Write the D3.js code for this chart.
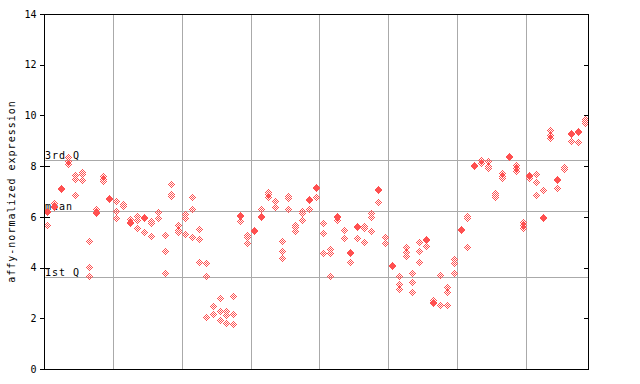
<!DOCTYPE html>
<html>
<head>
<meta charset="utf-8">
<script src="https://cdn.jsdelivr.net/npm/d3@7"></script>
<style>
  body { margin: 0; background: #fff; }
  text { font-family: "DejaVu Sans Mono", monospace; }
</style>
</head>
<body>
<div id="chart"></div>
<script>
// replicate values for each of the 79 samples, left to right
var expr = [
  [6.22, 6.18, 5.67], [6.55, 6.42, 6.38], [7.15, 7.10], [8.37, 8.22, 8.08], [7.65, 7.48, 6.86],
  [7.76, 7.70, 7.45], [5.05, 4.03, 3.67], [6.30, 6.20, 6.15], [7.60, 7.48, 7.43], [6.76, 6.70],
  [6.63, 6.23, 5.94], [6.51, 6.43], [5.90, 5.78, 5.75], [6.03, 5.88, 5.55], [6.00, 5.95, 5.42],
  [5.85, 5.77, 5.25], [6.20, 5.94], [5.27, 4.65, 3.80], [7.30, 6.90, 6.82], [5.68, 5.50, 5.42],
  [6.10, 5.94, 5.32], [6.77, 6.30, 5.19], [5.51, 5.11, 4.21], [4.17, 3.66, 2.05], [2.48, 2.16],
  [2.80, 2.27, 1.92], [2.27, 2.12, 1.80], [2.87, 2.16, 1.76], [6.07, 6.02, 5.85], [5.27, 5.20, 4.96],
  [5.50, 5.45], [6.30, 6.02, 5.98], [6.97, 6.90, 6.80], [6.61, 6.38], [5.05, 4.65, 4.37],
  [6.84, 6.73, 6.30], [5.68, 5.60, 5.44], [6.23, 6.14, 5.86], [6.70, 6.66, 6.30], [7.17, 7.12, 6.77],
  [5.74, 5.35, 4.56], [4.73, 4.58, 3.66], [6.03, 5.98, 5.88], [5.48, 5.15], [4.62, 4.57, 4.23],
  [5.65, 5.61, 5.15], [5.65, 5.58, 5.00], [6.14, 5.98, 5.44], [7.08, 7.04, 6.57], [5.19, 4.98],
  [4.12, 4.08], [3.67, 3.34, 3.14], [4.80, 4.63, 4.46], [3.77, 3.44, 3.02], [5.00, 4.64, 4.21],
  [5.13, 5.09, 4.84], [2.71, 2.66, 2.59], [3.71, 2.52], [3.22, 3.05, 2.52], [4.33, 4.19, 3.77],
  [5.53, 5.49], [6.02, 5.95, 4.80], [8.06, 8.02], [8.24, 8.14], [8.21, 8.01, 7.93],
  [6.96, 6.86, 6.77], [7.71, 7.60, 7.55], [8.39, 8.35], [8.04, 7.91, 7.82], [5.81, 5.68, 5.55],
  [7.66, 7.60, 7.52], [7.68, 7.36, 6.85], [7.06, 6.00, 5.96], [9.43, 9.22, 9.12], [7.48, 7.44, 7.12],
  [7.95, 7.88], [9.29, 9.25, 9.00], [9.37, 9.33, 8.94], [9.84, 9.78, 9.71]
];

var yTicks     = [0, 2, 4, 6, 8, 10, 12, 14];
var innerTicks = [4, 6, 8];
var groupEdges = [10, 20, 30, 40, 50, 60, 70];
var refValues  = [8.23, 6.23, 3.63];
var refLabels  = ["3rd Q", "mean", "1st Q"];

var width = 640, height = 384,
    margin = {top: 14, right: 52, bottom: 15, left: 44};

var x = d3.scaleLinear().domain([0, expr.length]).range([margin.left, width - margin.right]);
var y = d3.scaleLinear().domain([0, 14]).range([height - margin.bottom, margin.top]);

var svg = d3.select("#chart").append("svg")
    .attr("width", width)
    .attr("height", height)
    .attr("shape-rendering", "crispEdges");

// vertical separators between sample groups
svg.append("g").selectAll("line")
    .data(groupEdges)
  .enter().append("line")
    .attr("x1", function(d) { return Math.round(x(d)) + 0.5; })
    .attr("x2", function(d) { return Math.round(x(d)) + 0.5; })
    .attr("y1", y(14))
    .attr("y2", y(0))
    .attr("stroke", "#aaa");

// quartile / mean lines
svg.append("g").selectAll("line")
    .data(refValues)
  .enter().append("line")
    .attr("x1", x(0))
    .attr("x2", x(expr.length))
    .attr("y1", function(d) { return Math.round(y(d)) + 0.5; })
    .attr("y2", function(d) { return Math.round(y(d)) + 0.5; })
    .attr("stroke", "#aaa");

svg.append("g").selectAll("text")
    .data(refValues)
  .enter().append("text")
    .attr("x", x(0) + 1)
    .attr("y", function(d) { return Math.round(y(d)) - 1; })
    .attr("font-size", "10px")
    .attr("letter-spacing", "1px")
    .attr("fill", "#000")
    .text(function(d, i) { return refLabels[i]; });

// checkered 7px diamond, built pixel by pixel
var diamond = "";
for (var dy = -3; dy <= 3; dy++) {
  for (var dx = -3; dx <= 3; dx++) {
    if (Math.abs(dx) + Math.abs(dy) <= 3 && Math.abs(dx + dy) % 2 == 1)
      diamond += "M" + dx + "," + dy + "h1v1h-1z";
  }
}

var pts = [];
expr.forEach(function(vals, i) {
  vals.forEach(function(v) { pts.push({i: i, v: v}); });
});

svg.append("g").selectAll("path")
    .data(pts)
  .enter().append("path")
    .attr("transform", function(d) {
      return "translate(" + Math.round(x(d.i + 0.5)) + "," + Math.round(y(d.v)) + ")";
    })
    .attr("d", diamond)
    .attr("fill", "#ff5050");

// frame
svg.append("rect")
    .attr("x", x(0) + 0.5)
    .attr("y", y(14) + 0.5)
    .attr("width", x(expr.length) - x(0))
    .attr("height", y(0) - y(14))
    .attr("fill", "none")
    .attr("stroke", "#000");

var yAxis = svg.append("g")
    .attr("transform", "translate(" + (x(0) + 0.5) + ",0)")
    .call(d3.axisLeft(y).tickValues(yTicks).tickSize(5).tickPadding(3));
yAxis.select(".domain").remove();
yAxis.selectAll("text")
    .attr("font-family", "DejaVu Sans Mono, monospace")
    .attr("font-size", "10px")
    .attr("fill", "#000");

// short inward ticks
svg.append("g")
    .attr("transform", "translate(" + (x(expr.length) + 0.5) + ",0)")
    .call(d3.axisLeft(y).tickValues(yTicks).tickSize(5).tickFormat(""))
    .select(".domain").remove();

svg.append("g")
    .attr("transform", "translate(" + (x(0) + 0.5) + ",0)")
    .call(d3.axisRight(y).tickValues(innerTicks).tickSize(5).tickFormat(""))
    .select(".domain").remove();

svg.append("text")
    .attr("transform", "translate(15," + ((y(0) + y(14)) / 2) + ") rotate(-90)")
    .attr("text-anchor", "middle")
    .attr("font-size", "10px")
    .attr("letter-spacing", "1px")
    .text("affy-normalized expression");
</script>
</body>
</html>
